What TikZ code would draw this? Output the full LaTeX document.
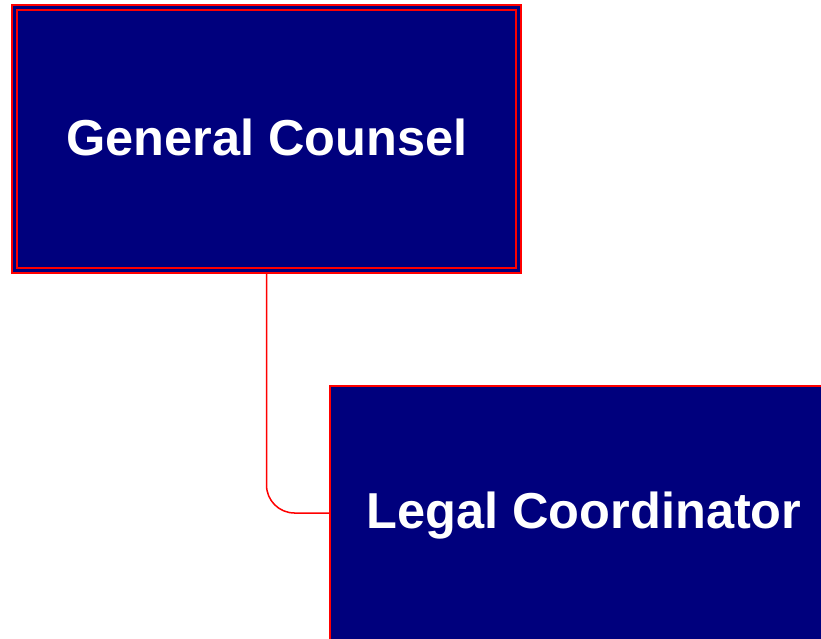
\documentclass[tikz,border=0pt]{standalone}
\usepackage{fontspec}
\setmainfont{Liberation Sans}
\definecolor{boxnavy}{RGB}{0,0,125}
\definecolor{linkred}{RGB}{255,0,0}
\begin{document}
\begin{tikzpicture}[x=1pt,y=-1pt,
  orgbox/.style={rectangle, draw=linkred, fill=boxnavy, line width=1.8pt,
    inner sep=0pt, outer sep=0pt, minimum width=509pt},
  orglabel/.style={anchor=base, text=white, inner sep=0pt,
    font=\bfseries\fontsize{50.5}{60}\selectfont},
  link/.style={draw=linkred, line width=1.5pt, rounded corners=28pt}]
\useasboundingbox (0,0) rectangle (821,638);
% top position, framed twice
\node[orgbox, minimum height=268pt] (b1) at (266.5,139) {};
\draw[linkred, line width=1.1pt] ([shift={(5,5)}]b1.north west) rectangle ([shift={(-5,-5)}]b1.south east);
\node[orgbox, minimum height=254pt] (b2) at (584.5,513) {};
% reporting line
\draw[link] (b1.south) |- (b2.west);
% titles
\node[orglabel] (t1) at (267,155) {General Counsel};
\node[orglabel] (t2) at (584,528) {Legal Coordinator};
\end{tikzpicture}
\end{document}
